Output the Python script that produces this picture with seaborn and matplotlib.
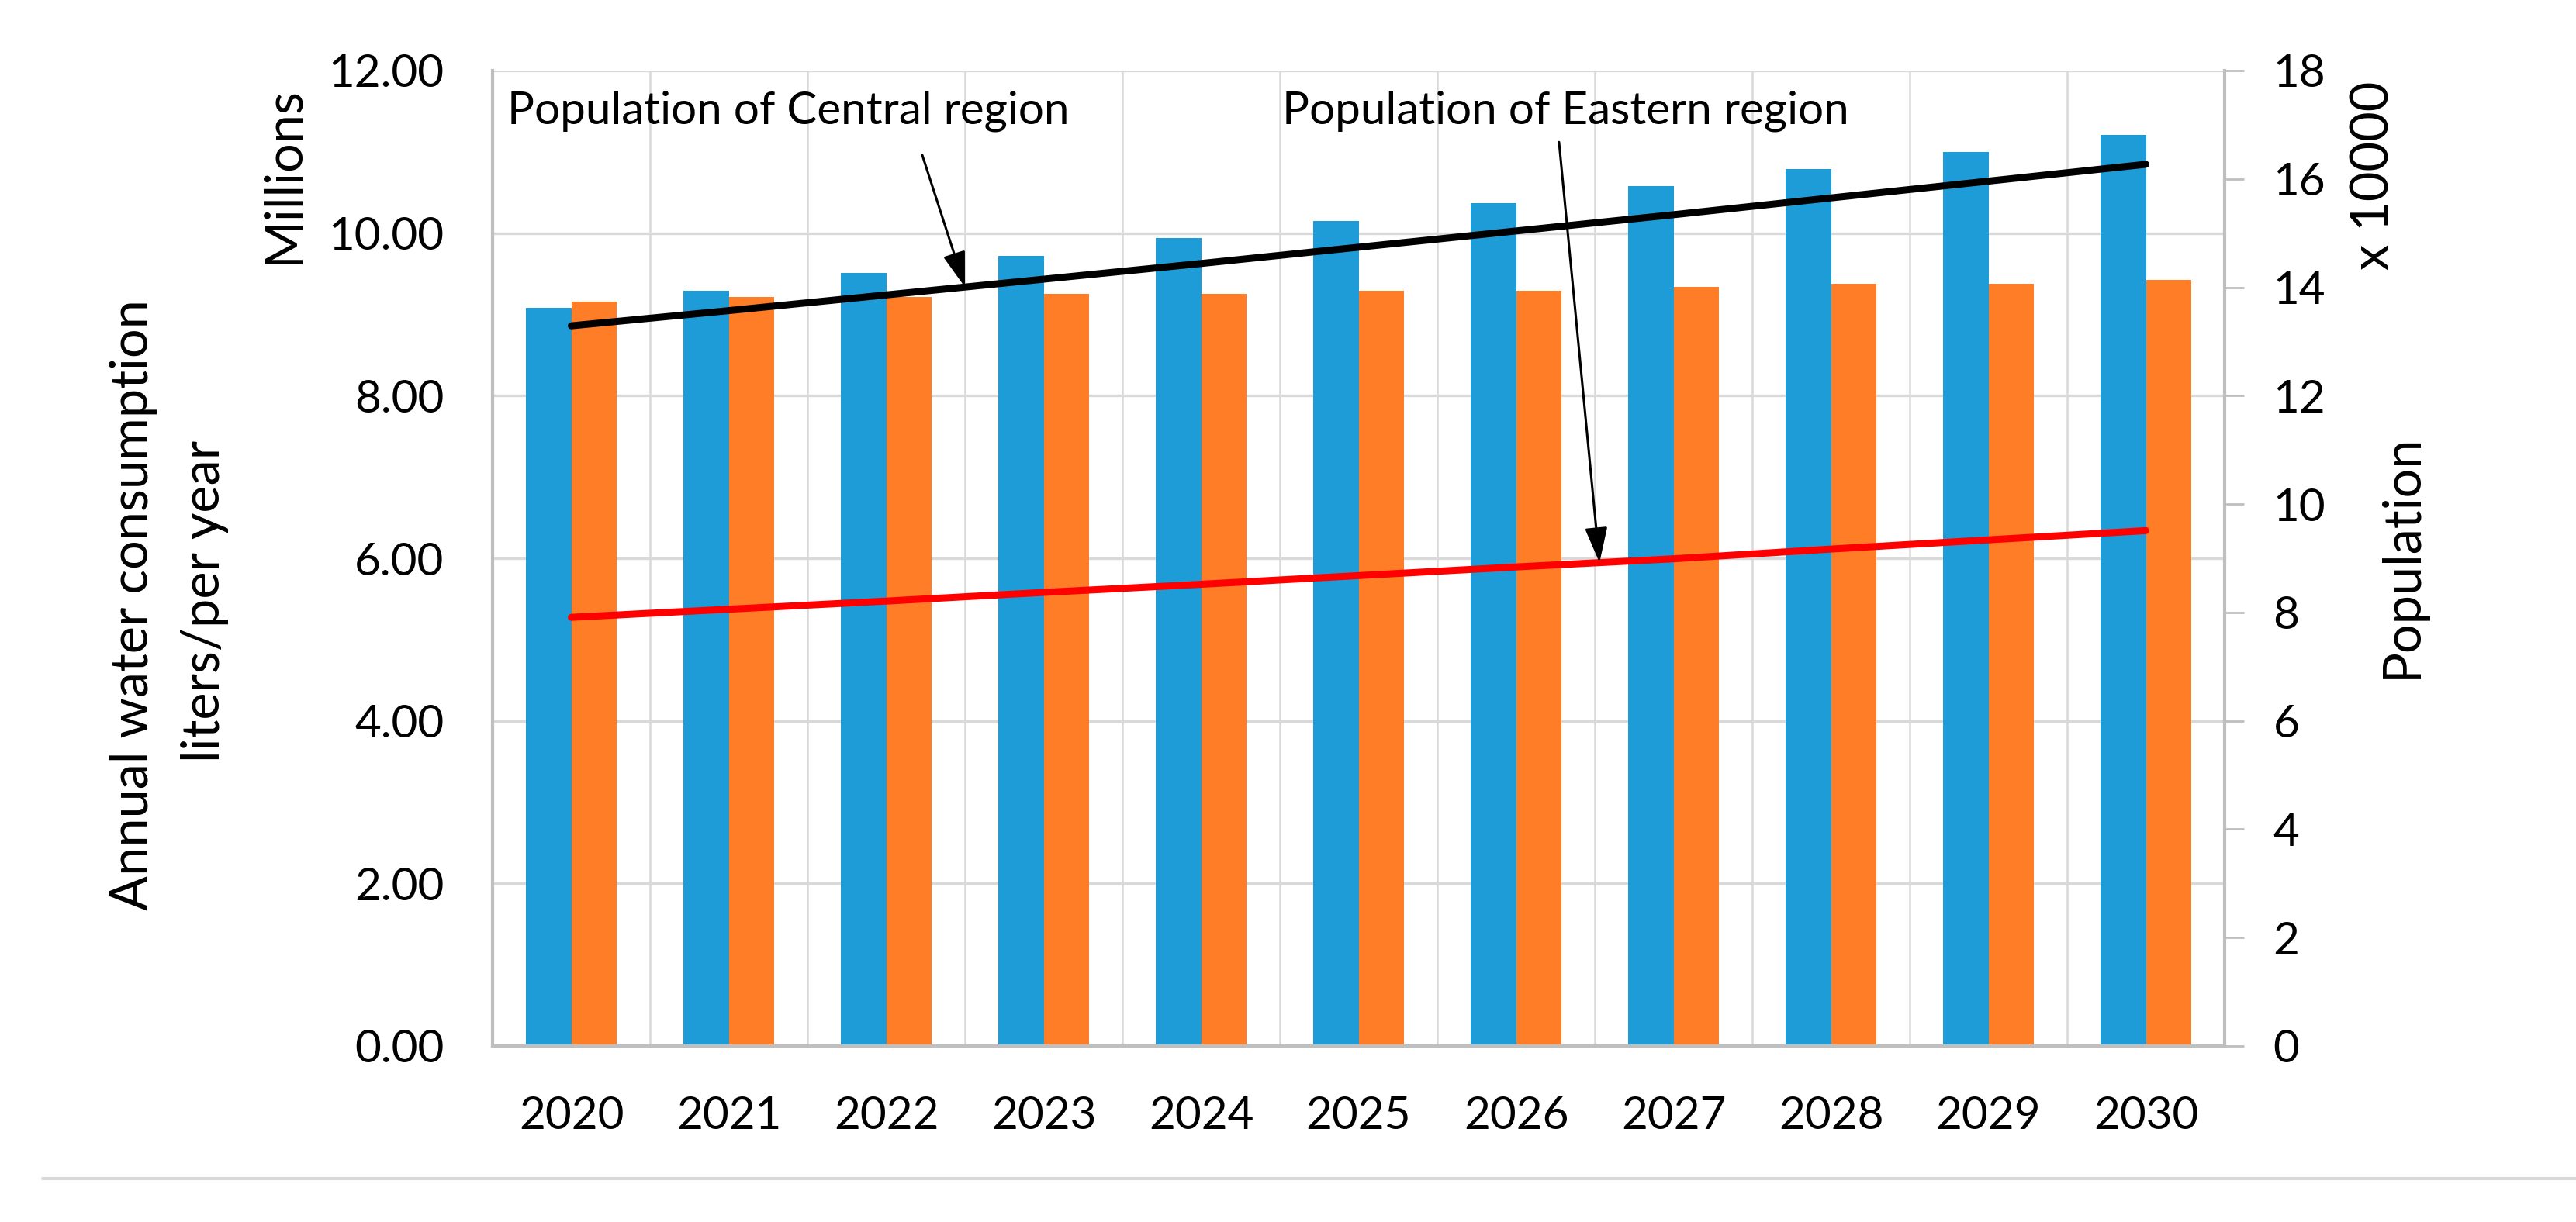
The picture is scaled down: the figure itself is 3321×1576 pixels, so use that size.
import matplotlib
matplotlib.use("Agg")
import matplotlib.pyplot as plt
from matplotlib.lines import Line2D
import seaborn as sns
import numpy as np
import pandas as pd

YEARS = [str(y) for y in range(2020, 2031)]
WATER_CENTRAL = [9.08, 9.29, 9.51, 9.72, 9.94, 10.15, 10.37, 10.58, 10.79, 11.00, 11.21]
WATER_EASTERN = [9.16, 9.21, 9.21, 9.25, 9.25, 9.29, 9.29, 9.34, 9.38, 9.38, 9.42]
POP_CENTRAL = [13.29, 13.57, 13.86, 14.15, 14.44, 14.74, 15.04, 15.34, 15.65, 15.96, 16.27]
POP_EASTERN = [7.91, 8.06, 8.21, 8.37, 8.52, 8.68, 8.84, 8.99, 9.17, 9.34, 9.51]
LEFT_TICKS = [0, 2, 4, 6, 8, 10, 12]
RIGHT_TICKS = list(range(0, 19, 2))

BLUE = "#1E9CD7"
ORANGE = "#FE7D26"
GRID = "#D9D9D9"
AXIS = "#BFBFBF"
FONT = ["Lato", "DejaVu Sans"]

W, H = 3321, 1576


def fx(px):
    return px / W


def fy(py):
    return 1 - py / H


sns.set_style("white")
plt.rcParams["font.family"] = FONT
plt.rcParams["text.color"] = "black"
plt.rcParams["xtick.labelcolor"] = "black"
plt.rcParams["ytick.labelcolor"] = "black"

df = pd.DataFrame({
    "year": YEARS * 2,
    "water": WATER_CENTRAL + WATER_EASTERN,
    "region": ["Central region"] * len(YEARS) + ["Eastern region"] * len(YEARS),
})

fig = plt.figure(figsize=(W / 100, H / 100), dpi=100)
ax = fig.add_axes([fx(635), fy(1349), fx(2868 - 635), (1349 - 91) / H])

sns.barplot(data=df, x="year", y="water", hue="region", palette=[BLUE, ORANGE],
            width=0.572, gap=0, saturation=1, linewidth=0, legend=False, ax=ax)
ax.set_xlim(-0.5, len(YEARS) - 0.5)
ax.set_ylim(0, 12)
ax.set_yticks(LEFT_TICKS)
ax.set_yticklabels([f"{v:.2f}" for v in LEFT_TICKS])
ax.set_xlabel("")
ax.set_ylabel("")
ax.set_xticks(np.arange(-0.5, len(YEARS), 1), minor=True)
ax.grid(axis="y", which="major", color=GRID, lw=2.4)
ax.grid(axis="x", which="minor", color=GRID, lw=1.8)
ax.set_axisbelow(True)
ax.tick_params(axis="both", which="both", length=0, labelsize=42)
ax.tick_params(axis="y", pad=45)
ax.tick_params(axis="x", pad=46)
for s in ["top", "right"]:
    ax.spines[s].set_visible(False)
for s in ["left", "bottom"]:
    ax.spines[s].set_color(AXIS)
    ax.spines[s].set_linewidth(3)

ax2 = ax.twinx()
idx = np.arange(len(YEARS))
sns.lineplot(x=idx, y=POP_CENTRAL, color="black", lw=6.5, ax=ax2)
sns.lineplot(x=idx, y=POP_EASTERN, color="#FF0000", lw=6.5, ax=ax2)
ax2.set_ylim(0, 18)
ax2.set_xlim(-0.5, len(YEARS) - 0.5)
ax2.set_yticks(RIGHT_TICKS)
ax2.tick_params(axis="y", direction="out", length=18, width=2, color=AXIS,
                labelsize=42, pad=27)
for s in ["top", "left", "bottom"]:
    ax2.spines[s].set_visible(False)
ax2.spines["right"].set_color(AXIS)
ax2.spines["right"].set_linewidth(3)
ax2.grid(False)

# annotations with arrows
arrow = dict(arrowstyle="-|>,head_length=1.4,head_width=0.45", color="black",
             lw=2.2, shrinkA=0, shrinkB=0, mutation_scale=20)
ax2.text(-0.406, 17.25, "Population of Central region", fontsize=42,
         ha="left", va="center")
tip_c = 2.5
ax2.annotate("", xy=(tip_c, np.interp(tip_c, idx, POP_CENTRAL)),
             xytext=(2.229, 16.44), arrowprops=arrow)
ax2.text(4.515, 17.25, "Population of Eastern region", fontsize=42,
         ha="left", va="center")
tip_e = 6.53
ax2.annotate("", xy=(tip_e, np.interp(tip_e, idx, POP_EASTERN)),
             xytext=(6.273, 16.68), arrowprops=arrow)

# axis titles
fig.text(fx(172), fy(780), "Annual water consumption", rotation=90,
         ha="center", va="center", fontsize=48)
fig.text(fx(264), fy(775), "liters/per year", rotation=90,
         ha="center", va="center", fontsize=48)
fig.text(fx(365), fy(226), "Millions", rotation=90,
         ha="center", va="center", fontsize=48)
fig.text(fx(3060), fy(226), "x 10000", rotation=90,
         ha="center", va="center", fontsize=48)
fig.text(fx(3097), fy(717), "Population", rotation=90,
         ha="center", va="center", fontsize=48)

fig.add_artist(Line2D([fx(55), 1], [fy(1520), fy(1520)], color=GRID, lw=3))

fig.savefig("out.png", dpi=100)
plt.close(fig)
